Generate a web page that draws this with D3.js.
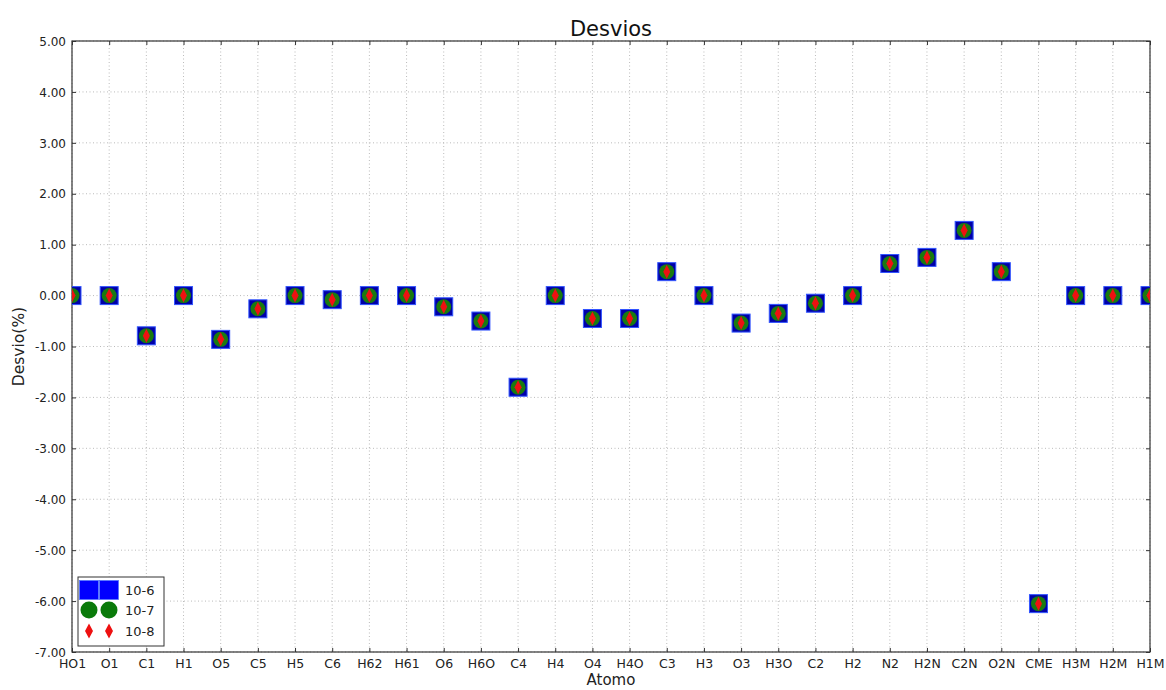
<!DOCTYPE html>
<html>
<head>
<meta charset="utf-8">
<script src="https://cdn.jsdelivr.net/npm/d3@7"></script>
<style>
  html, body { margin: 0; padding: 0; background: #fff; }
  svg { display: block; font-family: "DejaVu Sans", sans-serif; }
</style>
</head>
<body>
<svg id="chart" width="1166" height="690"></svg>
<script>
// Atom labels along the x axis
const atoms = ["HO1","O1","C1","H1","O5","C5","H5","C6","H62","H61","O6","H6O","C4","H4","O4","H4O","C3","H3","O3","H3O","C2","H2","N2","H2N","C2N","O2N","CME","H3M","H2M","H1M"];

// Deviation (%) per atom for each convergence tolerance
const dev106 = [0.00,0.00,-0.79,0.00,-0.86,-0.26,0.00,-0.08,0.00,0.00,-0.22,-0.50,-1.80,0.00,-0.45,-0.45,0.47,0.00,-0.54,-0.35,-0.15,0.00,0.63,0.75,1.28,0.47,-6.05,0.00,0.00,0.00];
const dev107 = [0.00,0.00,-0.79,0.00,-0.86,-0.26,0.00,-0.08,0.00,0.00,-0.22,-0.50,-1.80,0.00,-0.45,-0.45,0.47,0.00,-0.54,-0.35,-0.15,0.00,0.63,0.75,1.28,0.47,-6.05,0.00,0.00,0.00];
const dev108 = [0.00,0.00,-0.79,0.00,-0.86,-0.26,0.00,-0.08,0.00,0.00,-0.22,-0.50,-1.80,0.00,-0.45,-0.45,0.47,0.00,-0.54,-0.35,-0.15,0.00,0.63,0.75,1.28,0.47,-6.05,0.00,0.00,0.00];

const seriesNames = ["10-6","10-7","10-8"];
const yTicks = [5,4,3,2,1,0,-1,-2,-3,-4,-5,-6,-7];

const svg = d3.select("#chart");
const m = {left: 72, right: 1150, top: 41, bottom: 652};

const x = d3.scaleLinear().domain([0, atoms.length - 1]).range([m.left, m.right]);
const y = d3.scaleLinear().domain([-7, 5]).range([m.bottom, m.top]);

const plot = svg.append("g");

// clip so the edge markers are cut at the frame
svg.append("defs").append("clipPath").attr("id", "clip")
  .append("rect").attr("x", m.left).attr("y", m.top)
  .attr("width", m.right - m.left).attr("height", m.bottom - m.top);

// dotted grid
const grid = plot.append("g").attr("stroke", "#aaa").attr("stroke-width", 0.8).attr("stroke-dasharray", "1,2.5");
grid.selectAll("line.gx").data(d3.range(atoms.length)).join("line")
  .attr("x1", d => x(d)).attr("x2", d => x(d)).attr("y1", m.top).attr("y2", m.bottom);
grid.selectAll("line.gy").data(yTicks).join("line")
  .attr("y1", d => y(d)).attr("y2", d => y(d)).attr("x1", m.left).attr("x2", m.right);

// axes: ticks pointing inward on all four sides
const fmt = v => v.toFixed(2);
const axL = svg.append("g").attr("transform", `translate(${m.left},0)`)
  .call(d3.axisLeft(y).tickValues(yTicks).tickFormat(fmt).tickSizeInner(-4).tickSizeOuter(0).tickPadding(6));
const axR = svg.append("g").attr("transform", `translate(${m.right},0)`)
  .call(d3.axisRight(y).tickValues(yTicks).tickFormat("").tickSizeInner(-4).tickSizeOuter(0));
const axB = svg.append("g").attr("transform", `translate(0,${m.bottom})`)
  .call(d3.axisBottom(x).tickValues(d3.range(atoms.length)).tickFormat(i => atoms[i]).tickSizeInner(-4).tickSizeOuter(0).tickPadding(7));
const axT = svg.append("g").attr("transform", `translate(0,${m.top})`)
  .call(d3.axisTop(x).tickValues(d3.range(atoms.length)).tickFormat("").tickSizeInner(-4).tickSizeOuter(0));
[axL, axR, axB, axT].forEach(a => {
  a.select(".domain").remove();
  a.selectAll(".tick line").attr("stroke", "#333");
  a.selectAll("text").attr("fill", "#222").style("font-family", "DejaVu Sans, sans-serif");
});
axL.selectAll("text").attr("dy", "0.35em").style("font-size", "12px");
axB.selectAll("text").style("font-size", "12.5px");

// frame
svg.append("rect").attr("x", m.left).attr("y", m.top)
  .attr("width", m.right - m.left).attr("height", m.bottom - m.top)
  .attr("fill", "none").attr("stroke", "#333").attr("stroke-width", 1.2);

// markers
const marks = svg.append("g").attr("clip-path", "url(#clip)");
const sq = 18;
marks.selectAll("rect.s").data(dev106).join("rect")
  .attr("x", (d, i) => x(i) - sq / 2).attr("y", d => y(d) - sq / 2)
  .attr("width", sq).attr("height", sq)
  .attr("fill", "#0000a8").attr("stroke", "#3355ff").attr("stroke-width", 1);
marks.selectAll("circle.c").data(dev107).join("circle")
  .attr("cx", (d, i) => x(i)).attr("cy", d => y(d)).attr("r", 7.5)
  .attr("fill", "#1a7a10");
const diamond = (cx, cy, w, h) => `M${cx},${cy - h / 2}L${cx + w / 2},${cy}L${cx},${cy + h / 2}L${cx - w / 2},${cy}Z`;
marks.selectAll("path.d").data(dev108).join("path")
  .attr("d", (d, i) => diamond(x(i), y(d), 7, 14))
  .attr("fill", "#ee1111");

// legend
const lg = svg.append("g");
lg.append("rect").attr("x", 78).attr("y", 577).attr("width", 86).attr("height", 69)
  .attr("fill", "#fff").attr("stroke", "#333").attr("stroke-width", 1);
const rowY = [590, 610, 631];
const mx = [89, 109];
seriesNames.forEach((name, k) => {
  mx.forEach(cx => {
    if (k === 0) lg.append("rect").attr("x", cx - 9.5).attr("y", rowY[k] - 9.5).attr("width", 19).attr("height", 19)
      .attr("fill", "#0000ff").attr("stroke", "#5577ff").attr("stroke-width", 0.8);
    if (k === 1) lg.append("circle").attr("cx", cx).attr("cy", rowY[k]).attr("r", 8.5).attr("fill", "#0a7a0a");
    if (k === 2) lg.append("path").attr("d", diamond(cx, rowY[k], 8, 15)).attr("fill", "#ee1111");
  });
  lg.append("text").attr("x", 125).attr("y", rowY[k]).attr("dy", "0.35em")
    .style("font-size", "13px").attr("fill", "#222").text(name);
});

// titles
svg.append("text").attr("x", (m.left + m.right) / 2).attr("y", 36).attr("text-anchor", "middle")
  .style("font-size", "21px").attr("fill", "#111").text("Desvios");
svg.append("text").attr("x", (m.left + m.right) / 2).attr("y", 685).attr("text-anchor", "middle")
  .style("font-size", "15px").attr("fill", "#222").text("Atomo");
svg.append("text").attr("transform", `translate(24,${(m.top + m.bottom) / 2}) rotate(-90)`)
  .attr("text-anchor", "middle").style("font-size", "15.5px").attr("fill", "#222").text("Desvio(%)");
</script>
</body>
</html>
